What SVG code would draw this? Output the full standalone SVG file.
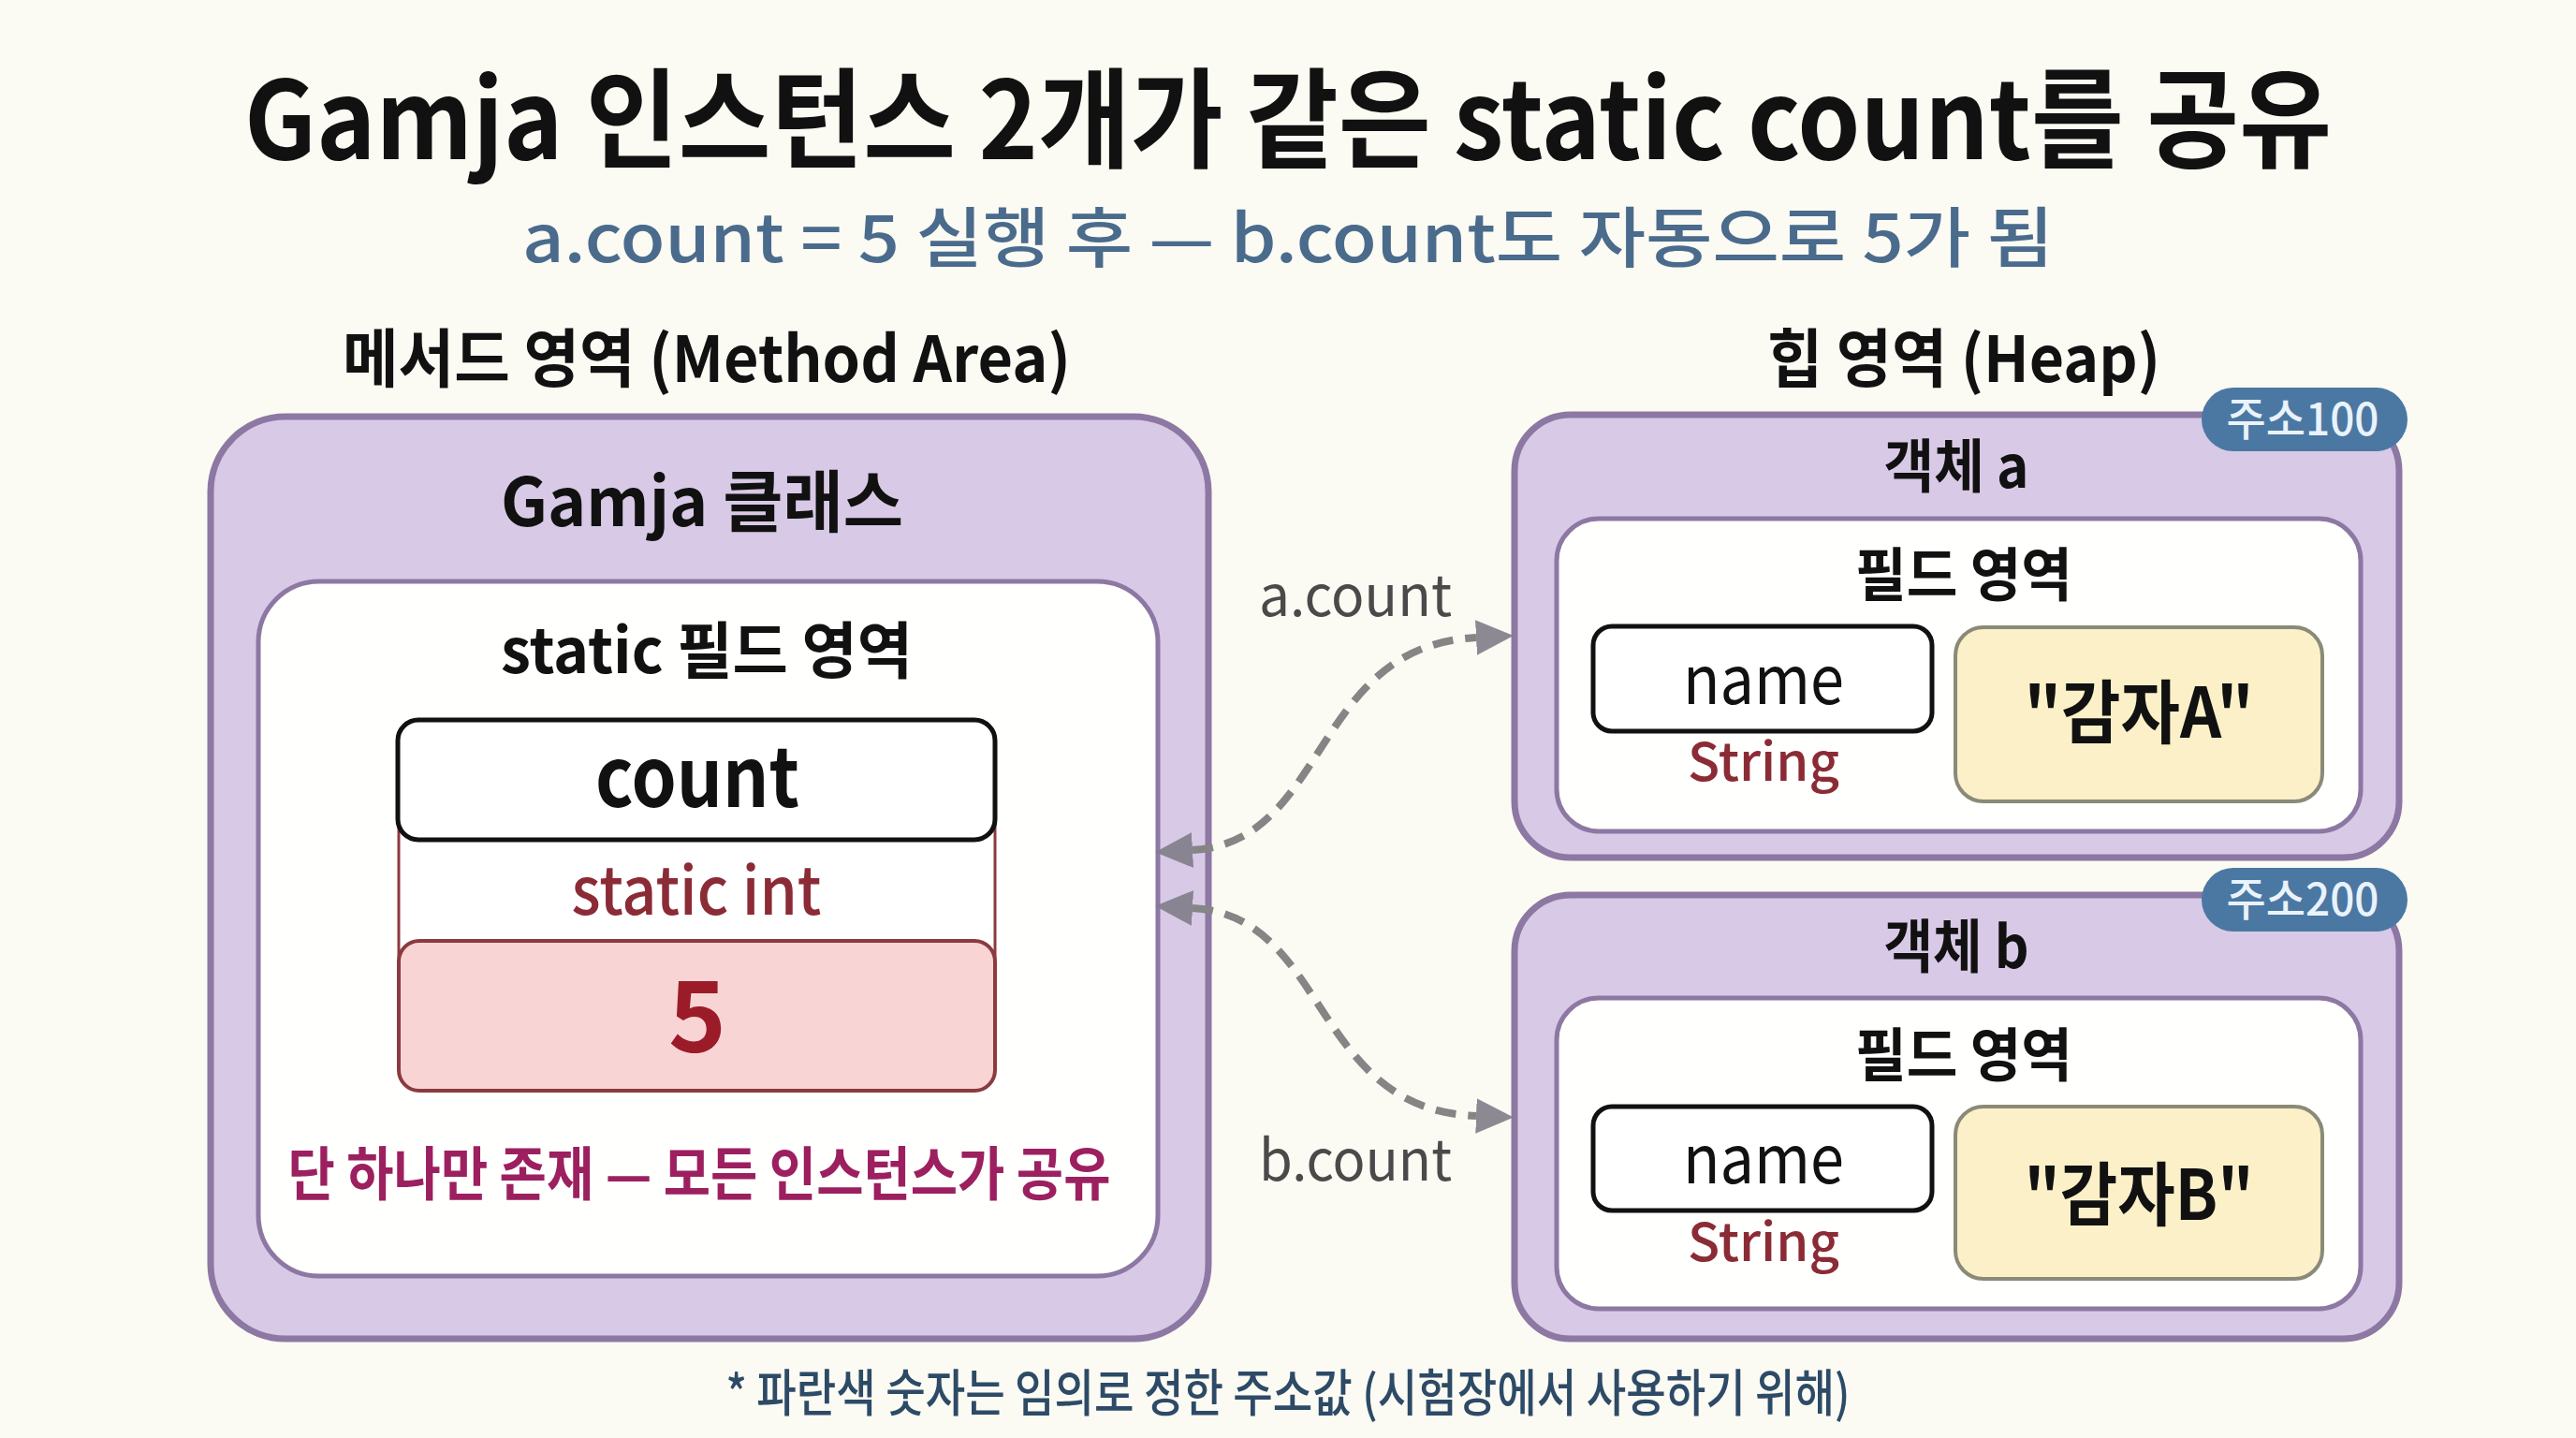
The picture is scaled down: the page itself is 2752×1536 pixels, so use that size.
<svg xmlns="http://www.w3.org/2000/svg" width="2752" height="1536" viewBox="0 0 2752 1536">
<defs>
<style>
text{font-family:"Noto Sans CJK KR","Noto Sans",sans-serif;text-anchor:middle}
.b{font-weight:700;fill:#111}
.outer{fill:#d8c9e6;stroke:#8c78a3;stroke-width:7}
.inner{fill:#fffffd;stroke:#8c78a3;stroke-width:5}
.namebox{fill:#fff;stroke:#111;stroke-width:5}
.valbox{fill:#fbf0c8;stroke:#8a8a78;stroke-width:4}
.badge{fill:#4a78a3}
.badget{font-size:48px;font-weight:500;fill:#eaf2fa}
.type{font-weight:500;fill:#8b2b36}
.conn{fill:none;stroke:#858585;stroke-width:8;stroke-dasharray:22 13}
.lbl{font-size:60px;fill:#4a4a4a}
</style>
<marker id="arr" markerUnits="userSpaceOnUse" markerWidth="40" markerHeight="40" viewBox="0 -18 36 36" refX="0" refY="0" orient="auto-start-reverse">
<path d="M0,-17 L36,0 L0,17 Z" fill="#807c88" fill-opacity="0.9"/>
</marker>
</defs>
<rect width="2752" height="1536" fill="#fbfaf3"/>

<g id="title">
<text class="b" x="1376" y="170" font-size="116" textLength="2230" lengthAdjust="spacingAndGlyphs">Gamja 인스턴스 2개가 같은 static count를 공유</text>
<text x="1376" y="280" font-size="70" font-weight="500" fill="#4a6b8c" textLength="1636" lengthAdjust="spacingAndGlyphs">a.count = 5 실행 후 — b.count도 자동으로 5가 됨</text>
</g>

<g id="method-area">
<text class="b" x="755" y="408" font-size="68" textLength="778" lengthAdjust="spacingAndGlyphs">메서드 영역 (Method Area)</text>
<rect class="outer" x="225" y="445" width="1066" height="985" rx="80"/>
<text class="b" x="750" y="562" font-size="72" textLength="430" lengthAdjust="spacingAndGlyphs">Gamja 클래스</text>
</g>

<g id="static-field">
<rect class="inner" x="276" y="621" width="961" height="742" rx="65"/>
<text class="b" x="755" y="719" font-size="66" textLength="440" lengthAdjust="spacingAndGlyphs">static 필드 영역</text>
<rect x="426" y="780" width="637" height="380" rx="22" fill="#fff" stroke="#8b3a40" stroke-width="3"/>
<text class="type" x="744" y="977" font-size="70" textLength="267" lengthAdjust="spacingAndGlyphs">static int</text>
<rect x="426" y="1005" width="637" height="160" rx="22" fill="#f8d4d4" stroke="#8b3a40" stroke-width="4"/>
<text x="745" y="1124" font-size="105" font-weight="700" fill="#9b1c28">5</text>
<rect class="namebox" x="425" y="769" width="638" height="128" rx="22"/>
<text class="b" x="745" y="862" font-size="88" textLength="218" lengthAdjust="spacingAndGlyphs">count</text>
<text x="747" y="1277" font-size="62" font-weight="700" fill="#9c2060" textLength="879" lengthAdjust="spacingAndGlyphs">단 하나만 존재 — 모든 인스턴스가 공유</text>
</g>

<g id="heap-label">
<text class="b" x="2098" y="408" font-size="68" textLength="420" lengthAdjust="spacingAndGlyphs">힙 영역 (Heap)</text>
</g>

<g id="obj-a">
<rect class="outer" x="1618" y="443" width="945" height="473" rx="60"/>
<rect class="badge" x="2352" y="414" width="220" height="68" rx="34"/>
<text class="badget" x="2460" y="465" textLength="163" lengthAdjust="spacingAndGlyphs">주소100</text>
<text class="b" x="2090" y="521" font-size="62" textLength="155" lengthAdjust="spacingAndGlyphs">객체 a</text>
<rect class="inner" x="1663" y="554" width="859" height="334" rx="45"/>
<text class="b" x="2098" y="637" font-size="62" textLength="232" lengthAdjust="spacingAndGlyphs">필드 영역</text>
<rect class="namebox" x="1702" y="669" width="362" height="112" rx="20"/>
<text x="1884" y="752" font-size="72" fill="#111" textLength="172" lengthAdjust="spacingAndGlyphs">name</text>
<text class="type" x="1884" y="834" font-size="56" textLength="162" lengthAdjust="spacingAndGlyphs">String</text>
<rect class="valbox" x="2089" y="670" width="392" height="186" rx="30"/>
<text class="b" x="2285" y="788" font-size="74" textLength="245" lengthAdjust="spacingAndGlyphs">"감자A"</text>
</g>

<g id="obj-b">
<rect class="outer" x="1618" y="956" width="945" height="474" rx="60"/>
<rect class="badge" x="2352" y="927" width="220" height="68" rx="34"/>
<text class="badget" x="2460" y="978" textLength="163" lengthAdjust="spacingAndGlyphs">주소200</text>
<text class="b" x="2090" y="1034" font-size="62" textLength="155" lengthAdjust="spacingAndGlyphs">객체 b</text>
<rect class="inner" x="1663" y="1066" width="859" height="332" rx="45"/>
<text class="b" x="2098" y="1150" font-size="62" textLength="232" lengthAdjust="spacingAndGlyphs">필드 영역</text>
<rect class="namebox" x="1702" y="1182" width="362" height="111" rx="20"/>
<text x="1884" y="1264" font-size="72" fill="#111" textLength="172" lengthAdjust="spacingAndGlyphs">name</text>
<text class="type" x="1884" y="1347" font-size="56" textLength="162" lengthAdjust="spacingAndGlyphs">String</text>
<rect class="valbox" x="2089" y="1182" width="392" height="184" rx="30"/>
<text class="b" x="2285" y="1303" font-size="74" textLength="245" lengthAdjust="spacingAndGlyphs">"감자B"</text>
</g>

<g id="connectors">
<path class="conn" d="M1274,908 C1420,900 1400,690 1577,681" marker-start="url(#arr)" marker-end="url(#arr)"/>
<path class="conn" d="M1274,970 C1420,978 1400,1185 1577,1192" marker-start="url(#arr)" marker-end="url(#arr)"/>
<text class="lbl" x="1448" y="658" textLength="206" lengthAdjust="spacingAndGlyphs">a.count</text>
<text class="lbl" x="1448" y="1261" textLength="206" lengthAdjust="spacingAndGlyphs">b.count</text>
</g>

<g id="footnote">
<text x="1376" y="1508" font-size="54" font-weight="500" fill="#2d4a66" textLength="1201" lengthAdjust="spacingAndGlyphs">* 파란색 숫자는 임의로 정한 주소값 (시험장에서 사용하기 위해)</text>
</g>
</svg>
